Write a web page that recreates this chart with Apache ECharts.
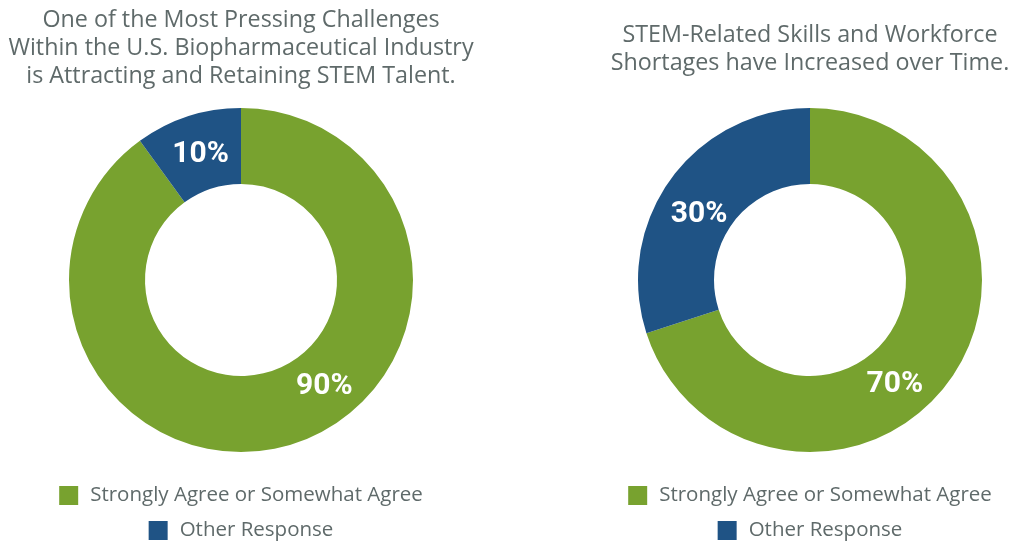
<!DOCTYPE html>
<html>
<head>
<meta charset="utf-8">
<script src="https://cdn.jsdelivr.net/npm/echarts@6/dist/echarts.min.js"></script>
<style>
  html, body { margin: 0; padding: 0; background: #fff; }
  #left { position: absolute; left: 0; top: 0; width: 482px; height: 542px; }
  #right { position: absolute; left: 606px; top: 0; width: 408px; height: 542px; }
</style>
</head>
<body>
<div id="left"></div>
<div id="right"></div>
<script>
// data
var categories = ['Strongly Agree or Somewhat Agree', 'Other Response']
var leftValues = [90, 10]
var rightValues = [70, 30]
var leftTitle = 'One of the Most Pressing Challenges\nWithin the U.S. Biopharmaceutical Industry\nis Attracting and Retaining STEM Talent.'
var rightTitle = 'STEM-Related Skills and Workforce\nShortages have Increased over Time.'

var colors = ['#78a22f', '#1f5385']
var gray = '#5f6a6a'
var font = 'Open Sans'

function makeOption (title, titleTop, values, shifts) {
  return {
    color: colors,
    animation: false,
    title: {
      text: title,
      left: 'center',
      top: titleTop,
      textStyle: {
        fontFamily: font,
        fontSize: 23.3,
        fontWeight: 'normal',
        color: gray,
        lineHeight: 28
      }
    },
    legend: [
      {
        data: [categories[0]],
        left: 'center',
        top: 480,
        itemWidth: 19,
        itemHeight: 19,
        icon: 'rect',
        textStyle: { fontFamily: font, fontSize: 20.5, color: gray, padding: [0, 0, 0, 7] }
      },
      {
        data: [categories[1]],
        left: 'center',
        top: 515,
        itemWidth: 19,
        itemHeight: 19,
        icon: 'rect',
        textStyle: { fontFamily: font, fontSize: 20.5, color: gray, padding: [0, 0, 0, 7] }
      }
    ],
    series: [{
      type: 'pie',
      center: ['50%', 280],
      radius: [96, 172],
      startAngle: 90,
      clockwise: true,
      label: {
        show: true,
        position: 'inside',
        formatter: '{c}%',
        color: '#fff',
        fontFamily: 'Roboto',
        fontSize: 30,
        fontWeight: 'bold'
      },
      labelLine: { show: false },
      emphasis: { disabled: true },
      labelLayout: function (params) {
        // labels in the original are not at the slice middle
        return { dx: shifts[params.dataIndex][0], dy: shifts[params.dataIndex][1] }
      },
      data: categories.map(function (name, i) {
        return { name: name, value: values[i] }
      })
    }]
  }
}

echarts.init(document.getElementById('left')).setOption(
  makeOption(leftTitle, 1, leftValues, [[41, -24], [2, 5]])
)
echarts.init(document.getElementById('right')).setOption(
  makeOption(rightTitle, 16, rightValues, [[-26, 24], [0, 15]])
)
</script>
</body>
</html>
